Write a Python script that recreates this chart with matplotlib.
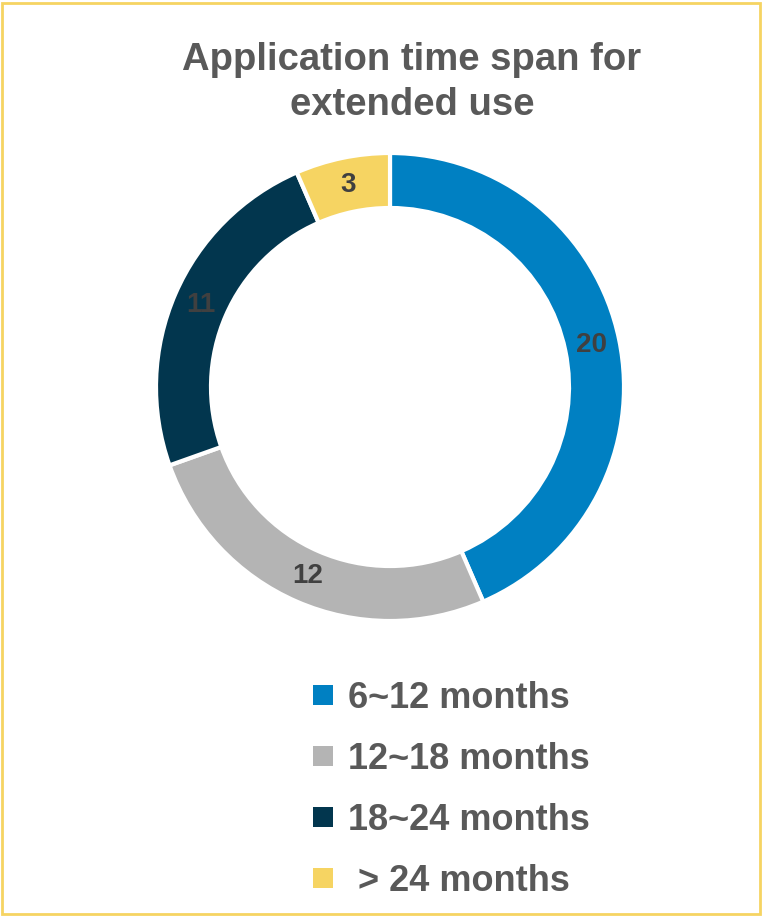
import matplotlib.pyplot as plt
from matplotlib.patches import Rectangle

categories = ['6~12 months', '12~18 months', '18~24 months', ' > 24 months']
counts = [20, 12, 11, 3]
colors = ['#0080C2', '#B4B4B4', '#02364E', '#F6D462']
title_lines = ['Application time span for', 'extended use']

plt.rcParams['font.family'] = ['Liberation Sans', 'DejaVu Sans']
plt.rcParams['font.weight'] = 'bold'

W, H = 762, 917
fig = plt.figure(figsize=(W / 100, H / 100), dpi=100)

# yellow frame round the whole chart
fig.patches.append(Rectangle((0.003, 0.003), 0.994, 0.994, transform=fig.transFigure,
                             fill=False, edgecolor='#F6D462', linewidth=2))

# title, two centred lines
for i, line in enumerate(title_lines):
    fig.text(412 / W, 1 - (70 + 45 * i) / H, line, ha='center', va='baseline',
             fontsize=27.5, fontweight='bold', color='#595959')

# donut
ax = fig.add_axes([156 / W, 296 / H, 468 / W, 468 / H])
wedges, texts = ax.pie(counts, colors=colors, startangle=90, counterclock=False,
                       labels=[str(c) for c in counts], labeldistance=0.88,
                       wedgeprops=dict(width=0.235, edgecolor='white', linewidth=3))
for t in texts:
    t.set_ha('center')
    t.set_va('center')
    t.set_fontsize(20)
    t.set_fontweight('bold')
    t.set_color('#404040')
ax.set_xlim(-1, 1)
ax.set_ylim(-1, 1)
ax.set_aspect('equal')

# legend, drawn by hand so the rows sit where they do in the original
for i, (lab, col) in enumerate(zip(categories, colors)):
    base = 708 + 61 * i
    fig.patches.append(Rectangle((313 / W, 1 - (base - 3) / H), 20 / W, 20 / H,
                                 transform=fig.transFigure, facecolor=col, edgecolor='none'))
    fig.text(348 / W, 1 - base / H, lab, ha='left', va='baseline',
             fontsize=26, fontweight='bold', color='#595959')

fig.savefig('out.png', dpi=100)
